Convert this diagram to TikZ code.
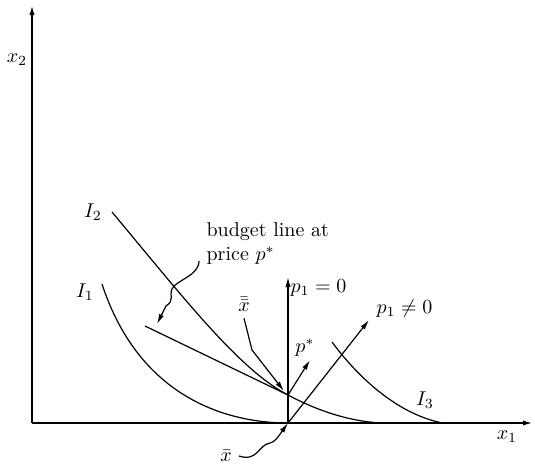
\documentclass[tikz,border=0pt]{standalone}
\usepackage{amssymb}
\usetikzlibrary{arrows.meta}
\begin{document}
\begin{tikzpicture}[x=.5pt,y=-.5pt,>={Latex[length=5pt,width=2.6pt]},line width=.6pt]
\useasboundingbox(0,0)rectangle(535,466);
\coordinate(o)at(32,423);\coordinate(xe)at(533,423);\coordinate(ye)at(32,5);
\coordinate(xb)at(288,423);\coordinate(xbb)at(288,395);
\draw[->,line width=.9pt](o)--(xe);\draw[->,line width=.9pt](o)--(ye);
\node(x1)at(507,437){$x_1$};\node(x2)at(17,60){$x_2$};
% indifference curves
\draw(102,284)..controls(140,400)and(230,423)..(xb);
\draw(112,212)..controls(187,302)and(240,370)..(xbb)..controls(320,412)and(350,421)..(380,423);
\draw(332,342)..controls(360,380)and(400,415)..(443,423);
\node(i1)at(85,292){$I_1$};\node(i2)at(93,212){$I_2$};\node(i3)at(425,400){$I_3$};
% budget line and price vectors
\coordinate(bl)at(145,326);\draw(bl)--(xbb);
\node[align=left,anchor=north west,inner sep=0](bt)at(206,222){budget line at\\price $p^*$};
\coordinate(bs)at(199,261);\coordinate(ba)at(157,324);
\draw[->](bs)..controls(199,276)and(176,280)..(172,289)..controls(169,296)and(175,300)..(166,306)--(ba);
\coordinate(p0)at(288,277);\coordinate(pn)at(369,320);\coordinate(ps)at(310,360);
\draw[->](xb)--(p0);\draw[->](xb)--(pn);\draw[->](xbb)--(ps);
\node[anchor=west,inner sep=0](p0l)at(290,288){$p_1=0$};
\node[anchor=west,inner sep=0](pnl)at(376,308){$p_1\neq 0$};
\node(psl)at(305,348){$p^*$};
\node(xbbl)at(244,304){$\bar{\bar{x}}$};\coordinate(xbba)at(284,391);
\draw[->](xbbl.south)--(252,350)--(xbba);
\node(xbl)at(226,456){$\bar{x}$};
\draw[->](xbl.east)..controls(258,462)and(258,445)..(270,443)..controls(275,442)and(278,437)..(xb);
\end{tikzpicture}
\end{document}
